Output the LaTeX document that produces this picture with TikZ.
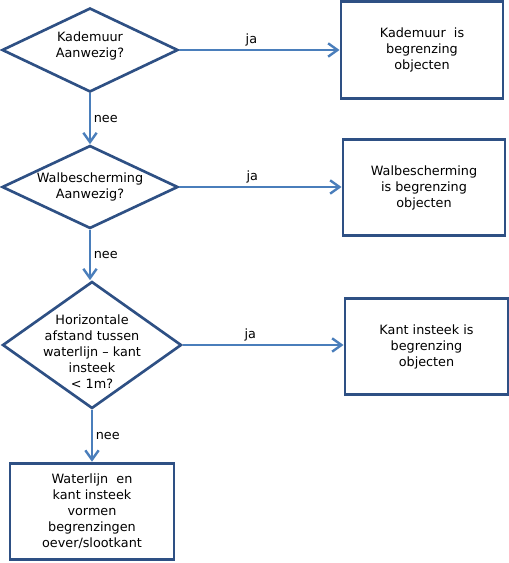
\documentclass[tikz,border=0pt]{standalone}
\usepackage{fontspec}
\setmainfont{DejaVu Sans}
\usepackage{tikz}
\usetikzlibrary{arrows.meta, shapes.geometric}
\definecolor{shapeblue}{HTML}{2E5084}
\definecolor{lineblue}{HTML}{4A7EBB}
\tikzset{
	x=0.75pt, y=-0.75pt, % one unit is one pixel of the layout
	>={Straight Barb[length=7pt, width=10pt]}, % open arrow heads
	every node/.style={font=\fontsize{9.6}{12}\selectfont}, % text size for all nodes
	decision/.style={diamond, draw=shapeblue, line width=2pt, inner sep=0pt}, % question shapes
	result/.style={rectangle, draw=shapeblue, line width=2.2pt, align=center, minimum height=72.5pt}, % outcome boxes
	flow/.style={->, draw=lineblue, line width=1.8pt}, % connectors
	answer/.style={inner sep=2pt}, % ja / nee texts
}
\begin{document}
\begin{tikzpicture}
		\useasboundingbox (0,0) rectangle (509,563);
		% questions
		\node[decision, minimum width=132pt, minimum height=63pt, label={[align=center, yshift=3pt]center:{Kademuur\\Aanwezig?}}] (kademuur) at (90,50) {};
		\node[decision, minimum width=132pt, minimum height=62.25pt, label={[align=center]center:{Walbescherming\\Aanwezig?}}] (walbescherming) at (90,187) {};
		\node[decision, minimum width=134.25pt, minimum height=95.25pt, label={[align=center, yshift=-5pt]center:{Horizontale\\afstand tussen\\waterlijn -- kant\\insteek\\< 1m?}}] (afstand) at (92,345) {};
		
		% outcomes
		\node[result, minimum width=121.5pt] (kadebox) at (422,50) {Kademuur~~is\\begrenzing\\objecten};
		\node[result, minimum width=121.5pt] (walbox) at (424,187.5) {Walbescherming\\is begrenzing\\objecten};
		\node[result, minimum width=122.25pt] (kantbox) at (426.5,346.5) {Kant insteek is\\begrenzing\\objecten};
		\node[result, minimum width=123pt] (oeverbox) at (92,511.5) {Waterlijn~~en\\kant insteek\\vormen\\begrenzingen\\oever/slootkant};
		
		% connectors
		\draw[flow] (kademuur.east) -- node[answer, pos=0.45, above] {ja} (kademuur.east -| kadebox.west);
		\draw[flow] (walbescherming.east) -- node[answer, pos=0.45, above] {ja} (walbescherming.east -| walbox.west);
		\draw[flow] (afstand.east) -- node[answer, pos=0.42, above] {ja} (afstand.east -| kantbox.west);
		\draw[flow] (kademuur.south) -- node[answer, midway, right] {nee} (walbescherming.north);
		\draw[flow] (walbescherming.south) -- node[answer, midway, right] {nee} (walbescherming.south |- afstand.north);
		\draw[flow] (afstand.south) -- node[answer, midway, right] {nee} (oeverbox.north);
\end{tikzpicture}
\end{document}
